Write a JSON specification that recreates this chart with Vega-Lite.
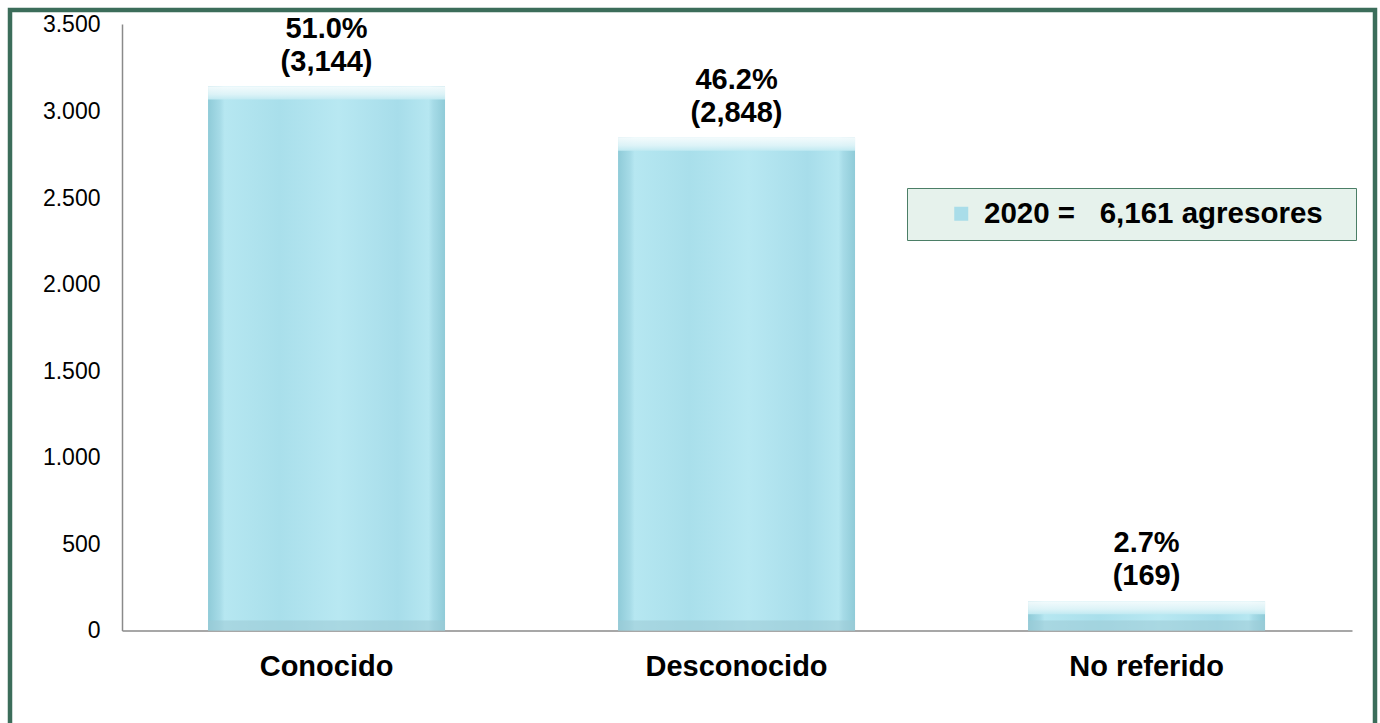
{
  "$schema": "https://vega.github.io/schema/vega-lite/v6.json",
  "width": 1365,
  "height": 730,
  "autosize": {"type": "none"},
  "padding": {"left": 10, "top": 10, "right": 5, "bottom": 0},
  "background": "white",
  "config": {
    "font": "Liberation Sans",
    "view": {"stroke": "#3b6d5a", "strokeWidth": 4.5, "fill": "white"}
  },
  "data": {
    "values": [
      {"cat": "Conocido", "n": 3144, "pct": "51.0%", "lab": "(3,144)", "serie": "2020 =\u00a0\u00a0\u00a06,161 agresores\u2800"},
      {"cat": "Desconocido", "n": 2848, "pct": "46.2%", "lab": "(2,848)", "serie": "2020 =\u00a0\u00a0\u00a06,161 agresores\u2800"},
      {"cat": "No referido", "n": 169, "pct": "2.7%", "lab": "(169)", "serie": "2020 =\u00a0\u00a0\u00a06,161 agresores\u2800"}
    ]
  },
  "encoding": {
    "x": {
      "field": "cat",
      "type": "nominal",
      "sort": null,
      "scale": {"paddingInner": 0.422, "paddingOuter": 0.3756, "align": 0.643},
      "axis": {
        "title": null,
        "orient": "bottom",
        "offset": -109.5,
        "ticks": false,
        "labelAngle": 0,
        "labelLimit": 500,
        "labelFont": "Liberation Sans",
        "labelFontSize": 29,
        "labelFontWeight": "bold",
        "labelColor": "#000000",
        "labelPadding": 22,
        "domainColor": "#8a8a8a",
        "domainWidth": 1.5,
        "domainDash": [1230, 135],
        "domainDashOffset": 1253
      }
    },
    "y": {
      "field": "n",
      "type": "quantitative",
      "scale": {"domain": [-632.9, 3586.7], "nice": false, "zero": false},
      "axis": {
        "title": null,
        "orient": "left",
        "offset": -112,
        "values": [0, 500, 1000, 1500, 2000, 2500, 3000, 3500],
        "labelExpr": "replace(format(datum.value, ','), ',', '.')",
        "ticks": false,
        "grid": false,
        "labelFont": "Liberation Sans",
        "labelFontSize": 23,
        "labelColor": "#000000",
        "labelPadding": 22,
        "domainColor": "#8a8a8a",
        "domainWidth": 1.5,
        "domainDash": [606.5, 123.5],
        "domainDashOffset": 620.5
      }
    }
  },
  "layer": [
    {
      "mark": {
        "type": "bar",
        "fill": {
          "gradient": "linear",
          "x1": 0, "x2": 1, "y1": 0, "y2": 0,
          "stops": [
            {"offset": 0, "color": "#8fcbd8"},
            {"offset": 0.05, "color": "#a6dbe7"},
            {"offset": 0.07, "color": "#b6e7f1"},
            {"offset": 0.3, "color": "#a9dfeb"},
            {"offset": 0.55, "color": "#b8e8f2"},
            {"offset": 0.8, "color": "#a7ddea"},
            {"offset": 0.93, "color": "#b6e7f1"},
            {"offset": 0.95, "color": "#a6dbe7"},
            {"offset": 1, "color": "#8fcbd8"}
          ]
        }
      }
    },
    {
      "mark": {
        "type": "tick", "orient": "horizontal", "size": 237, "thickness": 13, "yOffset": 6.5, "opacity": 0.95,
        "fill": {
          "gradient": "linear",
          "x1": 0, "x2": 0, "y1": 0, "y2": 1,
          "stops": [
            {"offset": 0, "color": "#f6fcfd"},
            {"offset": 0.6, "color": "#dff4f8"},
            {"offset": 1, "color": "#c2eaf2"}
          ]
        }
      }
    },
    {
      "mark": {"type": "tick", "orient": "horizontal", "size": 237, "thickness": 10, "yOffset": -5, "color": "#9ccbd6", "opacity": 0.55},
      "encoding": {"y": {"datum": 0}}
    },
    {
      "mark": {"type": "point", "filled": true, "size": 0, "color": "#a9dde9"},
      "encoding": {
        "shape": {
          "field": "serie",
          "type": "nominal",
          "scale": {"range": ["square"]},
          "legend": {
            "title": null,
            "orient": "none",
            "legendX": 897,
            "legendY": 178,
            "padding": 11,
            "fillColor": "#e6f2ec",
            "strokeColor": "#4b7e66",
            "labelFont": "Liberation Sans",
            "labelFontSize": 29.5,
            "labelFontWeight": "bold",
            "labelColor": "#000000",
            "labelLimit": 1000,
            "labelOffset": 8,
            "symbolType": "square",
            "symbolSize": 196,
            "symbolFillColor": "#a9dde9",
            "symbolStrokeColor": "#c8eef5",
            "symbolStrokeWidth": 0,
            "symbolOpacity": 1,
            "symbolOffset": 28.5
          }
        }
      }
    },
    {
      "mark": {"type": "text", "baseline": "alphabetic", "align": "center", "dy": -16, "font": "Liberation Sans", "fontSize": 29, "fontWeight": "bold", "color": "#000000"},
      "encoding": {"text": {"field": "lab"}}
    },
    {
      "mark": {"type": "text", "baseline": "alphabetic", "align": "center", "dy": -49, "font": "Liberation Sans", "fontSize": 29, "fontWeight": "bold", "color": "#000000"},
      "encoding": {"text": {"field": "pct"}}
    }
  ]
}
